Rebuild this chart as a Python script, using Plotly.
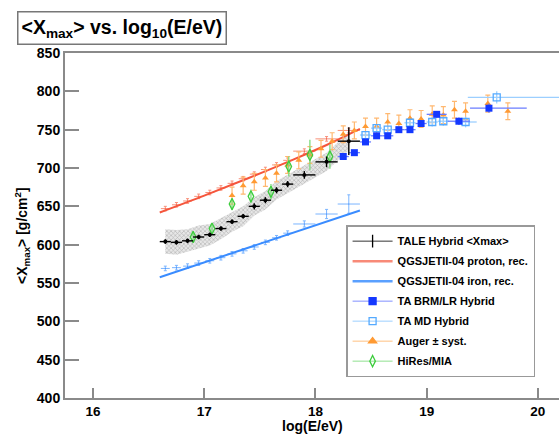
import plotly.graph_objects as go

# ---------------- data ----------------
tale_x = [16.65, 16.75, 16.85, 16.95, 17.05, 17.15, 17.25, 17.35, 17.45, 17.55, 17.65, 17.75, 17.9, 18.1, 18.3]
tale_y = [604, 603, 605, 610, 613, 621, 630, 637, 650, 658, 671, 679, 691, 708, 735]
tale_ex = [0.05] * 12 + [0.1, 0.1, 0.1]
tale_ey = [3, 3, 3, 3, 3, 3, 3, 3, 4, 4, 4, 4, 5, 7, 18]
tale_syst = [16, 16, 15, 15, 14, 14, 13, 13, 12, 12, 12, 12, 12, 12, 12]

prot_line_x = [16.6, 17.0, 17.4, 17.8, 18.1, 18.4]
prot_line_y = [642, 664, 687, 711, 730, 751]
prot_x = [16.65, 16.75, 16.85, 16.95, 17.05, 17.15, 17.25, 17.35, 17.45, 17.55, 17.65, 17.75, 17.9, 18.1, 18.3]
prot_y = [647, 652, 657, 663, 668, 674, 680, 686, 692, 698, 704, 710, 722, 738, 749]
prot_ex = [0.04] * 12 + [0.1, 0.1, 0.1]

iron_line_x = [16.6, 18.4]
iron_line_y = [557.5, 644.6]
iron_x = [16.65, 16.75, 16.85, 16.95, 17.05, 17.15, 17.25, 17.35, 17.45, 17.55, 17.65, 17.75, 17.9, 18.1, 18.3]
iron_y = [569, 570, 572, 576, 579, 583, 588, 592, 597, 603, 609, 615, 627, 640, 653]
iron_ex = [0.04] * 12 + [0.1, 0.1, 0.1]
iron_ey = [3] * 12 + [4, 6, 12]

brm_x = [18.25, 18.35, 18.45, 18.55, 18.65, 18.75, 18.85, 18.95, 19.09, 19.29, 19.56]
brm_y = [715, 720, 734, 742, 742, 750, 750, 758, 770, 761, 778]
brm_exm = [0.05] * 8 + [0.09, 0.1, 0.17]
brm_exp = [0.05] * 8 + [0.09, 0.1, 0.34]
brm_ey = [3, 3, 3, 3, 3, 3, 3, 4, 4, 5, 6]

md_x = [18.45, 18.55, 18.65, 18.85, 19.05, 19.15, 19.35, 19.63]
md_y = [743, 752, 750, 759, 760, 761, 760, 792]
md_exm = [0.05, 0.05, 0.05, 0.05, 0.05, 0.05, 0.1, 0.26]
md_exp = [0.05, 0.05, 0.05, 0.05, 0.05, 0.05, 0.1, 0.8]
md_ey = [5, 5, 5, 5, 6, 6, 7, 8]

aug_x = [17.25, 17.35, 17.45, 17.55, 17.65, 17.75, 17.85, 17.95, 18.05, 18.15, 18.25, 18.35,
         18.45, 18.55, 18.65, 18.75, 18.85, 18.95, 19.05, 19.15, 19.25, 19.35, 19.55, 19.73]
aug_y = [664, 677, 682, 687, 693, 704, 710, 717, 725, 735, 744, 749,
         754, 754, 760, 758, 765, 764, 770, 769, 776, 774, 784, 774]
aug_ey = [11] * 24

hm_x = [16.9, 17.07, 17.25, 17.42, 17.6, 17.76, 17.95, 18.13]
hm_y = [610, 621, 653, 663, 669, 702, 717, 715]
hm_ey = [6, 7, 8, 9, 10, 13, 20, 16]

x_ticks = [16, 17, 18, 19, 20]
y_ticks = [400, 450, 500, 550, 600, 650, 700, 750, 800, 850]

# ---------------- style ----------------
FONT = "Liberation Sans"
C_TALE = "#000000"
C_PROT = "#f5553c"
C_IRON = "#3a8cff"
C_BRM = "#1438ff"
C_MD = "#55aaff"
C_AUG = "#ff9a33"
C_HM = "#3ccc3c"
AX = "#8a8a8a"

fig = go.Figure()

# systematic band of TALE
band_x = tale_x + tale_x[::-1]
band_y = [y + s for y, s in zip(tale_y, tale_syst)] + [y - s for y, s in zip(tale_y[::-1], tale_syst[::-1])]
fig.add_trace(go.Scatter(x=band_x, y=band_y, fill="toself", mode="lines",
                         line=dict(width=0), fillcolor="rgba(215,215,215,0.6)",
                         fillpattern=dict(shape="x", fgcolor="#7a7a7a", size=3, solidity=0.35),
                         showlegend=False, hoverinfo="skip"))

# model points
fig.add_trace(go.Scatter(x=prot_x, y=prot_y, mode="markers", marker=dict(size=1, color=C_PROT),
                         error_x=dict(array=prot_ex, color="#f8907a", thickness=1, width=0),
                         error_y=dict(array=[3] * len(prot_x), color="#f8907a", thickness=1, width=1.5),
                         showlegend=False))
fig.add_trace(go.Scatter(x=iron_x, y=iron_y, mode="markers", marker=dict(size=1, color=C_IRON),
                         error_x=dict(array=iron_ex, color="#7ab4ff", thickness=1, width=0),
                         error_y=dict(array=iron_ey, color="#7ab4ff", thickness=1, width=1.5),
                         showlegend=False))
# model lines
fig.add_trace(go.Scatter(x=prot_line_x, y=prot_line_y, mode="lines", line=dict(color=C_PROT, width=2),
                         line_shape="spline", showlegend=False))
fig.add_trace(go.Scatter(x=iron_line_x, y=iron_line_y, mode="lines", line=dict(color=C_IRON, width=2),
                         showlegend=False))

# Auger
fig.add_trace(go.Scatter(x=aug_x, y=aug_y, mode="markers",
                         marker=dict(symbol="triangle-up", size=6, color=C_AUG),
                         error_y=dict(array=aug_ey, color="#ffb870", thickness=1.2, width=2.5),
                         showlegend=False))
# HiRes/MIA
fig.add_trace(go.Scatter(x=hm_x, y=hm_y, mode="markers",
                         marker=dict(symbol="diamond-tall-open", size=8, color=C_HM, line=dict(width=1.3)),
                         error_y=dict(array=hm_ey, color="#7ddc7d", thickness=1.3, width=0),
                         showlegend=False))
# TA MD
fig.add_trace(go.Scatter(x=md_x, y=md_y, mode="markers",
                         marker=dict(symbol="square-open", size=7, color=C_MD, line=dict(width=1.3)),
                         error_x=dict(array=md_exp, arrayminus=md_exm, color="#9ccfff", thickness=1.3, width=0),
                         error_y=dict(array=md_ey, color="#9ccfff", thickness=1.3, width=0),
                         showlegend=False))
# TA BRM/LR
fig.add_trace(go.Scatter(x=brm_x, y=brm_y, mode="markers",
                         marker=dict(symbol="square", size=7, color=C_BRM),
                         error_x=dict(array=brm_exp, arrayminus=brm_exm, color="#6a7dff", thickness=1.3, width=0),
                         error_y=dict(array=brm_ey, color="#6a7dff", thickness=1.3, width=0),
                         showlegend=False))
# TALE
fig.add_trace(go.Scatter(x=tale_x, y=tale_y, mode="markers",
                         marker=dict(symbol="circle", size=4, color=C_TALE),
                         error_x=dict(array=tale_ex, color=C_TALE, thickness=1.4, width=0),
                         error_y=dict(array=tale_ey, color=C_TALE, thickness=1.4, width=0),
                         showlegend=False))

# legend entries
legend_items = [
    ("TALE Hybrid &lt;Xmax&gt;", "#333333", "#000000", "line-ns", 9, 1),
    ("QGSJETII-04 proton, rec.", "#f88a78", None, None, 0, 2.5),
    ("QGSJETII-04 iron, rec.", "#5aa0ff", None, None, 0, 2.5),
    ("TA BRM/LR Hybrid", "#8090ff", C_BRM, "square", 7, 1),
    ("TA MD Hybrid", "#9ccfff", C_MD, "square-open", 7, 1),
    ("Auger ± syst.", "#ffc080", C_AUG, "triangle-up", 7, 1),
    ("HiRes/MIA", "#8fe08f", C_HM, "diamond-tall-open", 8, 1),
]
for i, (name, lc, mc, sym, ms, lw) in enumerate(legend_items):
    if sym is None:
        fig.add_trace(go.Scatter(x=[None], y=[None], mode="lines", name=name,
                                 line=dict(color=lc, width=lw), legendgroup=f"g{i}"))
    else:
        fig.add_trace(go.Scatter(x=[None], y=[None], mode="lines+markers", name=name,
                                 line=dict(color=lc, width=lw),
                                 marker=dict(symbol=sym, size=ms, color=mc,
                                             line=dict(color=mc, width=1.3)),
                                 legendgroup=f"g{i}"))

fig.add_annotation(text="&lt;X<sub>max</sub>&gt; vs. log<sub>10</sub>(E/eV)",
                   xref="paper", yref="paper", x=-0.098, y=1.072, xanchor="left", yanchor="middle",
                   showarrow=False, font=dict(family=FONT, size=19.5, color="black", weight="bold"),
                   bordercolor="#777777", borderwidth=1.5, borderpad=3, bgcolor="white")
# axis titles
fig.add_annotation(text="log(E/eV)", xref="paper", yref="paper", x=0.5, y=(398 - 426) / 345,
                   xanchor="center", yanchor="middle", showarrow=False,
                   font=dict(family=FONT, size=14, color="black", weight="bold"))
fig.add_annotation(text="&lt;X<sub>max</sub>&gt; [g/cm<sup>2</sup>]", xref="paper", yref="paper",
                   x=(22 - 65) / 494, y=(398 - 236) / 345, xanchor="center", yanchor="middle",
                   textangle=-90, showarrow=False,
                   font=dict(family=FONT, size=14, color="black", weight="bold"))

fig.update_layout(
    width=559, height=434,
    margin=dict(l=65, r=0, t=53, b=36),
    paper_bgcolor="white", plot_bgcolor="white",
    font=dict(family=FONT, size=14, color="black", weight="bold"),
    showlegend=True,
    legend=dict(x=0.569, y=0.501, xanchor="left", yanchor="top",
                bordercolor="#999999", borderwidth=1.5, bgcolor="white",
                font=dict(family=FONT, size=11, weight="bold"),
                tracegroupgap=1, itemwidth=40),
    xaxis=dict(range=[15.748, 20.19], tickvals=x_ticks, ticktext=[str(v) for v in x_ticks],
               showgrid=False, zeroline=False, showline=True, linecolor=AX, linewidth=2,
               mirror=True, ticks="inside", ticklen=10, tickwidth=1.5, tickcolor=AX,
               tickfont=dict(size=13.5)),
    yaxis=dict(range=[400, 850], tickvals=y_ticks, ticktext=[str(v) for v in y_ticks],
               showgrid=False, zeroline=False, showline=True, linecolor=AX, linewidth=2,
               mirror=False, ticks="inside", ticklen=14, tickwidth=1.5, tickcolor=AX),
)

fig.write_html("out.html")
